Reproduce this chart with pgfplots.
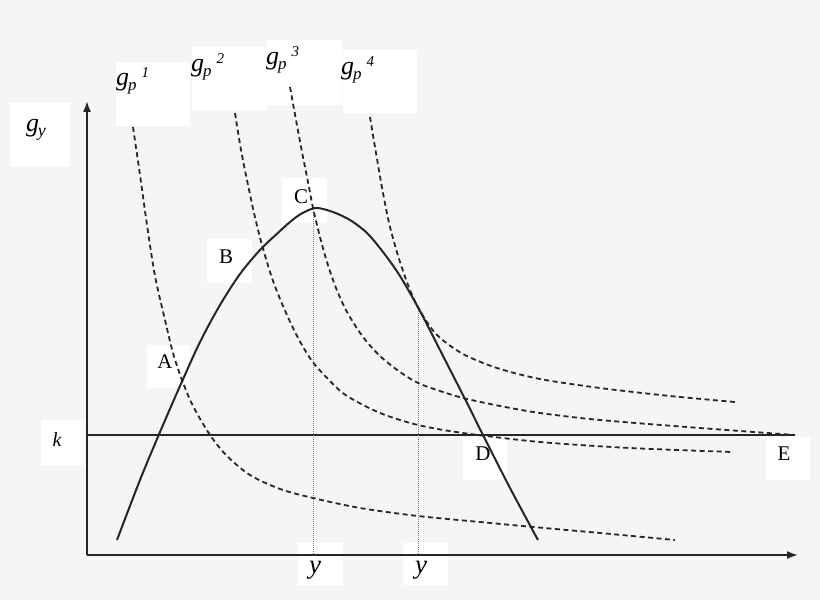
\documentclass[border=0pt]{standalone}
\usepackage{fontspec}
\setmainfont{Liberation Serif}
\usepackage{pgfplots}
\pgfplotsset{compat=1.18}
\usetikzlibrary{arrows.meta}
\definecolor{bg}{HTML}{F5F5F5}
\definecolor{ink}{HTML}{262626}

\newcommand{\fs}[1]{\fontsize{#1}{#1}\selectfont}
% g_p^n label as on the figure: italic g, lowered p, raised number
\newcommand{\gp}[1]{{\fs{26}\itshape g}\kern-1pt\raisebox{-5bp}{\fs{17}\itshape p}\kern5pt\raisebox{8bp}{\fs{15}\itshape #1}}

\begin{document}
\begin{tikzpicture}
\begin{axis}[
    scale only axis,
    width=820bp, height=600bp,
    xmin=0, xmax=820, ymin=0, ymax=600,
    y dir=reverse,
    hide axis,
    clip=false,
    curve/.style={ink, line width=2bp, smooth},
    gp/.style={ink, line width=1.8bp, smooth, dash pattern=on 5bp off 3.5bp},
    guide/.style={gray, line width=0.7bp, dash pattern=on 1bp off 1bp},
]
% background
\fill[bg] (axis cs:0,0) rectangle (axis cs:820,600);

% label boxes
\fill[white] (axis cs:10,103) rectangle (axis cs:70,167);
\fill[white] (axis cs:116,62) rectangle (axis cs:190,126);
\fill[white] (axis cs:192,47) rectangle (axis cs:267,111);
\fill[white] (axis cs:267,40) rectangle (axis cs:342,105);
\fill[white] (axis cs:343,50) rectangle (axis cs:417,113);
\fill[white] (axis cs:41,420) rectangle (axis cs:85,465);
\fill[white] (axis cs:298,543) rectangle (axis cs:343,585);
\fill[white] (axis cs:403,543) rectangle (axis cs:448,585);
\fill[white] (axis cs:463,437) rectangle (axis cs:507,480);
\fill[white] (axis cs:766,437) rectangle (axis cs:810,480);
\fill[white] (axis cs:147,345) rectangle (axis cs:190,388);
\fill[white] (axis cs:207,239) rectangle (axis cs:252,283);
\fill[white] (axis cs:282,178) rectangle (axis cs:327,223);

% axes
\addplot[ink, line width=1.8bp, -{Latex[length=11bp,width=8bp]}] coordinates {(87,555) (87,101)};
\addplot[ink, line width=1.8bp, -{Latex[length=11bp,width=8bp]}] coordinates {(87,555) (798,555)};

% k line
\addplot[ink, line width=2.2bp] coordinates {(87,435) (795,435)};

% guides
\addplot[guide] coordinates {(313,209) (313,555)};
\addplot[guide] coordinates {(418,311) (418,555)};

% g_y curve
\addplot[curve] coordinates {
    (117,540) (140,480) (160,432) (180,386) (200,342) (220,305) (240,274)
    (260,250) (280,231) (290,222) (300,214.5) (310,209.5) (318,208)
    (333,212) (350,220) (367,233) (383,252) (400,276) (420,311) (440,350)
    (465,399) (483,435) (510,488) (538,540)
};

% g_p curves
\addplot[gp] coordinates {
    (133,127) (140,175) (147,225) (155,276) (165,320) (173,353) (182,380)
    (193,406) (210,435) (227,456) (250,475) (280,489) (313,498) (360,508)
    (418,516) (480,522) (533,527) (600,533) (675,540)
};
\addplot[gp] coordinates {
    (235,113) (241,150) (247,180) (254,213) (262,245) (272,278) (283,306)
    (297,336) (312,361) (330,381) (347,396) (380,413) (418,425) (463,433)
    (540,442) (630,448) (732,452)
};
\addplot[gp] coordinates {
    (290,87) (296,120) (302,152) (308,182) (313,208) (320,237) (327,262)
    (336,288) (347,312) (363,337) (380,356) (400,372) (418,383) (440,391)
    (463,398) (500,406) (540,413) (600,420) (700,428) (795,435)
};
\addplot[gp] coordinates {
    (370,117) (376,153) (383,193) (390,227) (400,262) (410,290) (420,311)
    (437,335) (463,354) (497,368) (540,379) (600,388) (670,396) (735,402)
};

% labels
\node at (axis cs:36,130) {{\fs{26}\itshape g}\kern-1pt\raisebox{-5bp}{\fs{18}\itshape y}};
\node[anchor=base west, inner sep=0pt] at (axis cs:116,86) {\gp{1}};
\node[anchor=base west, inner sep=0pt] at (axis cs:191,72) {\gp{2}};
\node[anchor=base west, inner sep=0pt] at (axis cs:266,65) {\gp{3}};
\node[anchor=base west, inner sep=0pt] at (axis cs:341,75) {\gp{4}};
\node at (axis cs:57,440) {\fs{20}\itshape k};
\node at (axis cs:315,570) {\fs{27}\itshape y};
\node at (axis cs:421,570) {\fs{27}\itshape y};
\node at (axis cs:165,362) {\fs{21}A};
\node at (axis cs:226,257) {\fs{21}B};
\node at (axis cs:301,197) {\fs{21}C};
\node at (axis cs:483,454) {\fs{21}D};
\node at (axis cs:784,454) {\fs{21}E};
\end{axis}
\end{tikzpicture}
\end{document}
